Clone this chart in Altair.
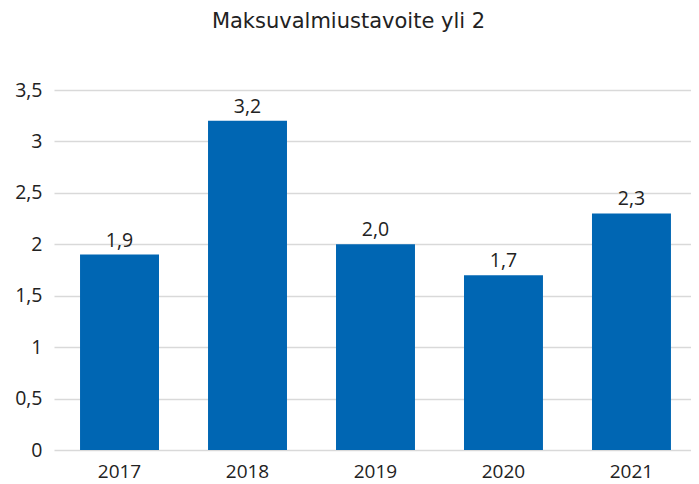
import altair as alt
import pandas as pd

years = ["2017", "2018", "2019", "2020", "2021"]
values = [1.9, 3.2, 2.0, 1.7, 2.3]
labels = ["1,9", "3,2", "2,0", "1,7", "2,3"]

df = pd.DataFrame({"year": years, "value": values, "label": labels})

FONT = "Open Sans"
TFONT = "DejaVu Sans"
LS = 19.5

base = alt.Chart(df).encode(
    x=alt.X("year:N", sort=years, title=None,
            scale=alt.Scale(paddingInner=0.383, paddingOuter=0.18, align=0.565),
            axis=alt.Axis(labelAngle=0, domain=False, ticks=False, labelPadding=12,
                          labelFontSize=19, labelColor="#222222", labelFont=FONT)),
)

bars = base.mark_bar(color="#0066b3").encode(
    y=alt.Y("value:Q", title=None,
            scale=alt.Scale(domain=[0, 3.5], nice=False),
            axis=alt.Axis(values=[0, 0.5, 1, 1.5, 2, 2.5, 3, 3.5], domain=False, ticks=False,
                          labelPadding=12, labelFontSize=LS, labelColor="#222222", labelFont=FONT,
                          gridColor="#d9d9d9", gridWidth=1.5,
                          labelExpr="replace(toString(datum.value), '.', ',')")),
)

text = base.mark_text(baseline="bottom", dy=-4, fontSize=LS, color="#222222", font=FONT).encode(
    y="value:Q",
    text="label:N",
)

chart = (bars + text).properties(
    width=637, height=360,
    padding={"left": 46, "top": 82, "right": 0, "bottom": 30},
    autosize=alt.AutoSizeParams(type="none"),
    title=alt.TitleParams("Maksuvalmiustavoite yli 2", fontSize=21, fontWeight="normal",
                          font=TFONT, color="#222222", offset=48, dx=-24),
).configure_view(stroke=None)

chart.save("out.html", embed_options={"renderer": "svg", "actions": False})
